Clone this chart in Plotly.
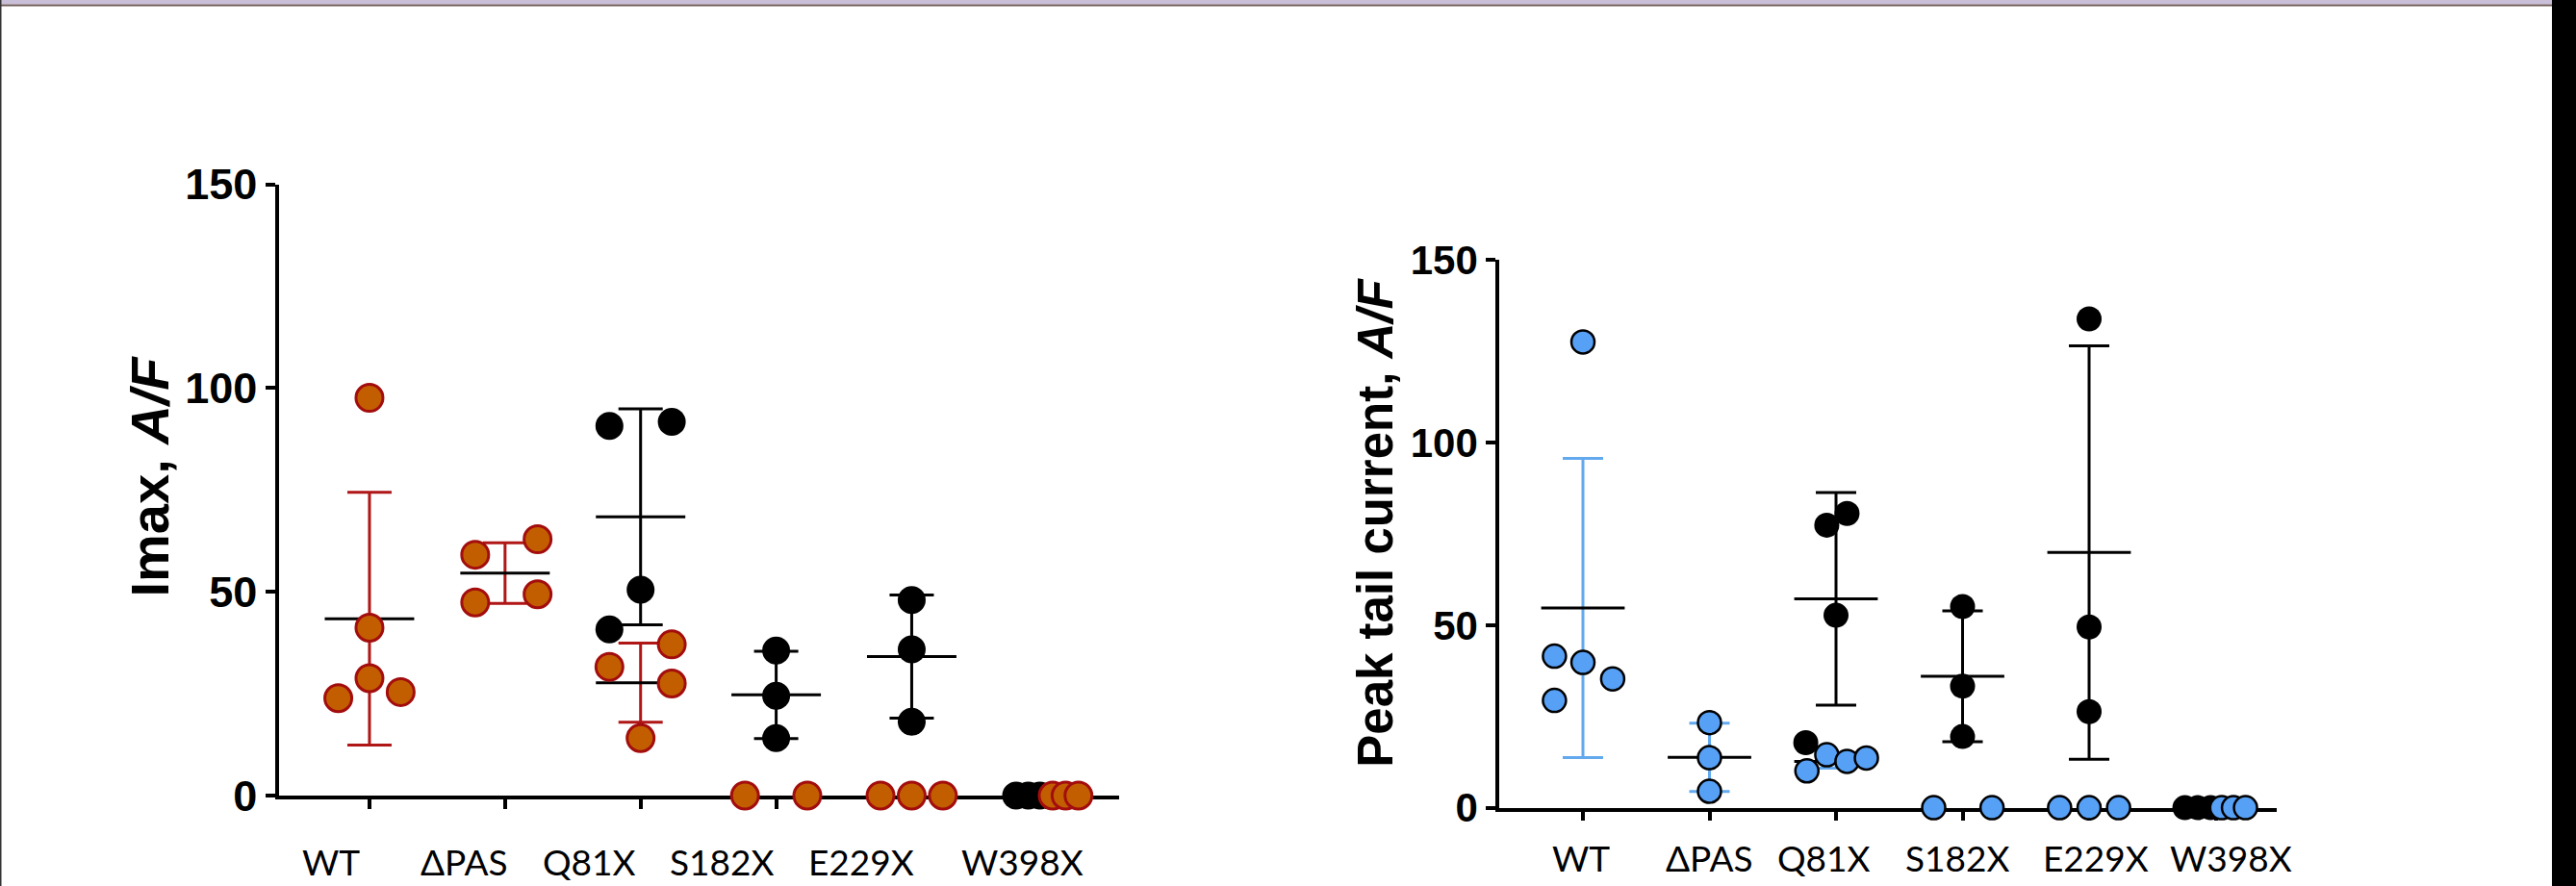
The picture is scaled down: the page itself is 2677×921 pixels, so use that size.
import plotly.graph_objects as go

W, H = 2677, 921

categories = ["WT", "ΔPAS", "Q81X", "S182X", "E229X", "W398X"]

# ---------- Panel A: Imax, A/F ----------
imax_red_values = [[97.6, 41.2, 28.8, 23.9, 25.4], [59.1, 62.9, 47.4, 49.4],
                   [37.1, 31.6, 27.5, 14.1], [0, 0], [0, 0, 0], [0, 0, 0]]
imax_red_jitter = [[0, 0, 0, -0.23, 0.23], [-0.22, 0.24, -0.22, 0.24],
                   [0.23, -0.23, 0.23, 0], [-0.23, 0.23], [-0.23, 0, 0.23], [0.04, 0.135, 0.23]]
imax_red_mean = [43.4, 54.6, 27.7, None, None, None]
imax_red_sd = [31.0, 7.45, 9.7, None, None, None]

imax_black_values = [[], [], [90.7, 91.7, 50.5, 40.8], [35.6, 24.5, 14.1],
                     [48.0, 35.9, 18.1], [0, 0, 0]]
imax_black_jitter = [[], [], [-0.23, 0.23, 0, -0.23], [0, 0, 0], [0, 0, 0], [-0.23, -0.14, -0.055]]
imax_black_mean = [None, None, 68.4, 24.7, 34.1, None]
imax_black_sd = [None, None, 26.5, 10.7, 15.1, None]

# ---------- Panel B: Peak tail current, A/F ----------
tail_blue_values = [[127.6, 41.5, 39.8, 35.3, 29.4], [23.3, 13.7, 4.5],
                    [10.1, 14.5, 12.7, 13.6], [0, 0], [0, 0, 0], [0, 0, 0]]
tail_blue_jitter = [[0, -0.225, 0, 0.235, -0.225], [0, 0, 0],
                    [-0.23, -0.073, 0.087, 0.24], [-0.228, 0.233], [-0.233, 0, 0.233], [0.048, 0.141, 0.236]]
tail_blue_mean = [54.7, 13.8, 12.7, None, None, None]
tail_blue_sd = [41.0, 9.35, 1.9, None, None, None]

tail_black_values = [[], [], [77.4, 80.6, 52.7, 17.8], [55.1, 33.3, 19.5],
                     [133.9, 49.5, 26.3], [0, 0, 0]]
tail_black_jitter = [[], [], [-0.073, 0.087, 0, -0.239], [0, 0, 0], [0, 0, 0], [-0.243, -0.141, -0.04]]
tail_black_mean = [None, None, 57.2, 36.0, 69.9, None]
tail_black_sd = [None, None, 29.1, 17.95, 56.6, None]

y_ticks = [0, 50, 100, 150]

# ---------- styles ----------
RED_FILL, RED_LINE, RED_BAR = "#C25E00", "#A30D0D", "#B01616"
BLUE_FILL, BLUE_BAR = "#56A0F6", "#62A9EE"

fig = go.Figure()


def add_points(values, jitter, xa, ya, marker):
    xs, ys = [], []
    for i, (vals, jit) in enumerate(zip(values, jitter)):
        for v, j in zip(vals, jit):
            xs.append(i + j)
            ys.append(v)
    fig.add_trace(go.Scatter(x=xs, y=ys, mode="markers", xaxis=xa, yaxis=ya,
                             marker=marker, cliponaxis=False, hoverinfo="skip",
                             showlegend=False))


def add_stats(means, sds, xa, ya, bar_color, cap_w, half_w):
    xs, ys, es = [], [], []
    for i, (m, s) in enumerate(zip(means, sds)):
        if m is None:
            continue
        xs.append(i)
        ys.append(m)
        es.append(s)
    fig.add_trace(go.Scatter(
        x=xs, y=ys, mode="markers", xaxis=xa, yaxis=ya,
        marker=dict(size=1, opacity=0), cliponaxis=False, hoverinfo="skip",
        showlegend=False,
        error_y=dict(type="data", array=es, symmetric=True, color=bar_color,
                     thickness=3, width=cap_w),
        error_x=dict(type="constant", value=half_w, color="black",
                     thickness=3, width=0)))


# Panel A traces
add_stats(imax_black_mean, imax_black_sd, "x", "y", "black", 23, 0.33)
add_points(imax_black_values, imax_black_jitter, "x", "y",
           dict(size=29, color="black", line=dict(width=0)))
add_stats(imax_red_mean, imax_red_sd, "x", "y", RED_BAR, 23, 0.33)
add_points(imax_red_values, imax_red_jitter, "x", "y",
           dict(size=28, color=RED_FILL, line=dict(width=3, color=RED_LINE)))

# Panel B traces
add_stats(tail_black_mean, tail_black_sd, "x2", "y2", "black", 21, 0.33)
add_points(tail_black_values, tail_black_jitter, "x2", "y2",
           dict(size=26, color="black", line=dict(width=0)))
add_stats(tail_blue_mean, tail_blue_sd, "x2", "y2", BLUE_BAR, 21, 0.33)
add_points(tail_blue_values, tail_blue_jitter, "x2", "y2",
           dict(size=24, color=BLUE_FILL, line=dict(width=2.5, color="black")))


def px_x(p):
    return p / W


def px_y(p):
    return 1 - p / H


axis_common = dict(showline=True, linecolor="black", linewidth=3.5, ticks="outside",
                   ticklen=10, tickwidth=3.5, tickcolor="black", showgrid=False,
                   zeroline=False, layer="below traces", fixedrange=True,
                   automargin=False)

fig.update_layout(
    template="none",
    width=W, height=H, autosize=False,
    margin=dict(l=0, r=0, t=0, b=0, pad=0),
    paper_bgcolor="white", plot_bgcolor="rgba(0,0,0,0)",
    showlegend=False,
    xaxis=dict(domain=[px_x(290), px_x(1163)], range=[-0.667, 5.53],
               tickvals=list(range(len(categories))), showticklabels=False,
               anchor="y", **axis_common),
    yaxis=dict(domain=[px_y(827), px_y(191.6)], range=[0, 150], tickvals=y_ticks,
               tickfont=dict(family="Liberation Sans, Arial", size=45, color="black", weight=700),
               anchor="x", **axis_common),
    xaxis2=dict(domain=[px_x(1558), px_x(2366)], range=[-0.6616, 5.4828],
                tickvals=list(range(len(categories))), showticklabels=False,
                anchor="y2", **axis_common),
    yaxis2=dict(domain=[px_y(839.6), px_y(270.4)], range=[0, 150], tickvals=y_ticks,
                tickfont=dict(family="Liberation Sans, Arial", size=42, color="black", weight=700),
                anchor="x2", **axis_common),
)

# category labels (placed as in the original, which are not exactly under the ticks)
label_font = dict(family="Lato, Roboto, sans-serif", size=37, color="black")
left_label_px = [343.7, 482, 612, 750, 895, 1062]
right_label_px = [1642.6, 1776, 1895, 2034, 2178, 2318]
for name, lx, rx in zip(categories, left_label_px, right_label_px):
    fig.add_annotation(text=name, x=px_x(lx), y=px_y(895), xref="paper", yref="paper",
                       showarrow=False, font=label_font, xanchor="center", yanchor="middle")
    fig.add_annotation(text=name, x=px_x(rx), y=px_y(891), xref="paper", yref="paper",
                       showarrow=False, font=label_font, xanchor="center", yanchor="middle")

# axis titles
fig.add_annotation(text="<b>Imax, <i>A/F</i></b>", x=px_x(154.5), y=px_y(495),
                   xref="paper", yref="paper", showarrow=False, textangle=-90,
                   font=dict(family="Liberation Sans, Arial", size=56, color="black"),
                   xanchor="center", yanchor="middle")
fig.add_annotation(text="<b>Peak tail current, <i>A/F</i></b>", x=px_x(1430), y=px_y(543.7),
                   xref="paper", yref="paper", showarrow=False, textangle=-90,
                   font=dict(family="Liberation Sans, Arial", size=51, color="black"),
                   xanchor="center", yanchor="middle")

# slide frame decorations
fig.add_shape(type="rect", xref="paper", yref="paper", x0=0, x1=1, y0=px_y(4.5), y1=1,
              fillcolor="#C9BFD9", line=dict(width=0), layer="above")
fig.add_shape(type="rect", xref="paper", yref="paper", x0=0, x1=1, y0=px_y(6.5), y1=px_y(4.5),
              fillcolor="#6E5C58", line=dict(width=0), layer="above")
fig.add_shape(type="rect", xref="paper", yref="paper", x0=0, x1=px_x(1.5), y0=0, y1=1,
              fillcolor="#333333", line=dict(width=0), layer="above")
fig.add_shape(type="rect", xref="paper", yref="paper", x0=px_x(2652), x1=1, y0=0, y1=1,
              fillcolor="black", line=dict(width=0), layer="above")

fig.write_html("out.html", config={"displayModeBar": False},
               post_script="document.body.style.margin='0';document.body.style.overflow='hidden';")
